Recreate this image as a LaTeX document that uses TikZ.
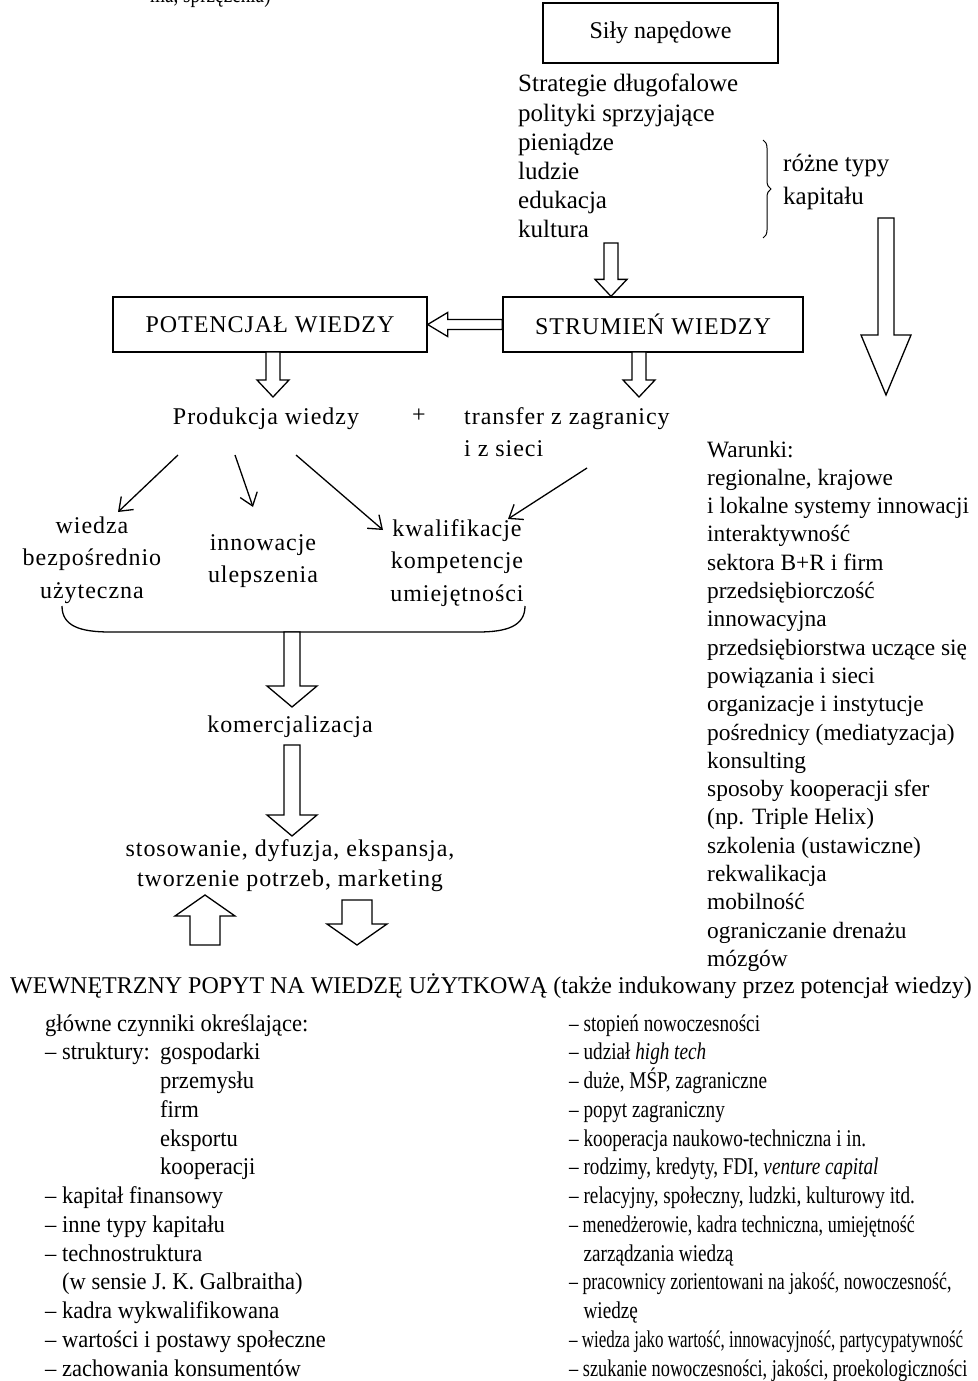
\documentclass[tikz,border=0pt]{standalone}
\usepackage{fontspec}
\setmainfont{Liberation Serif}
\newfontfamily\condfont[FakeStretch=0.8]{Liberation Serif}
\newfontfamily\lcondfont[FakeStretch=0.94]{Liberation Serif}
\newfontfamily\spcfont[LetterSpace=4]{Liberation Serif}
\usetikzlibrary{calc,arrows.meta,decorations.pathreplacing}
\newcommand\blockarr[5]{%
  \coordinate (bac) at ($(#2)!#5!(#1)$);
  \draw[blk] ($(#1)!#3!90:(#2)$) -- ($(bac)!#3!90:(#2)$) -- ($(bac)!#4!90:(#2)$) -- (#2)
    -- ($(bac)!#4!-90:(#2)$) -- ($(bac)!#3!-90:(#2)$) -- ($(#1)!#3!-90:(#2)$) -- cycle;}
\begin{document}
\begin{tikzpicture}[x=1pt,y=-1pt,
  txt/.style={inner sep=0pt, font=\fontsize{24}{28}\selectfont},
  btxt/.style={inner sep=0pt, font=\fontsize{25}{29}\selectfont},
  rtxt/.style={inner sep=0pt, font=\fontsize{23.4}{28}\selectfont},
  stxt/.style={inner sep=0pt, font=\spcfont\fontsize{24}{28}\selectfont},
  ctxt/.style={inner sep=0pt, font=\condfont\fontsize{24}{28}\selectfont},
  lctxt/.style={inner sep=0pt, font=\lcondfont\fontsize{24}{28}\selectfont},
  box/.style={draw, line width=1.3pt, inner sep=0pt},
  blk/.style={draw, line width=1.3pt, fill=white, line join=miter},
  thinarr/.style={line width=1.3pt, -{Straight Barb[length=12pt,width=18pt]}},
]
\useasboundingbox (0,0) rectangle (977,1381);
% cut-off caption fragment at the top
\node[ctxt, anchor=base west] (frag) at (150,3) {ma, sprzężenia)};
% driving forces
\node[box, txt, minimum width=235pt, minimum height=60pt] (sily) at (660.5,33) {Siły napędowe};
\foreach \t [count=\i from 0] in {Strategie długofalowe, polityki sprzyjające, pieniądze, ludzie, edukacja, kultura}
  \node[btxt, anchor=base west] (sl\i) at (518, 92+\i*29) {\t};
\draw[line width=1pt, decorate, decoration={brace, amplitude=8pt}] (763,140) -- (763,238);
\node[btxt, anchor=base west] (rt1) at (783,171) {różne typy};
\node[btxt, anchor=base west] (rt2) at (783,204) {kapitału};
% boxes
\node[box, stxt, minimum width=314pt, minimum height=55pt] (poten) at (270,324.5) {POTENCJAŁ WIEDZY};
\node[box, stxt, minimum width=300pt, minimum height=55pt] (strum) at (653,324.5) {STRUMIEŃ WIEDZY};
% block arrows top
\coordinate (a1s) at (611,243);
\coordinate (a1e) at (a1s |- strum.north);
\blockarr{a1s}{a1e}{7pt}{16pt}{17pt}
\blockarr{strum.west}{poten.east}{5pt}{12pt}{20pt}
\coordinate (a3s) at (273,352); \coordinate (a3e) at (273,397);
\blockarr{a3s}{a3e}{7pt}{16pt}{17pt}
\coordinate (a4s) at (639,352); \coordinate (a4e) at (639,397);
\blockarr{a4s}{a4e}{7pt}{16pt}{17pt}
\coordinate (a5s) at (886,218); \coordinate (a5e) at (886,395);
\blockarr{a5s}{a5e}{8pt}{25pt}{60pt}
% production / transfer
\node[stxt, anchor=base] (prod) at (266,424) {Produkcja wiedzy};
\node[txt, anchor=base] (plus) at (419,422) {+};
\node[stxt, anchor=base west] (tr1) at (464,424) {transfer z zagranicy};
\node[stxt, anchor=base west] (tr2) at (464,456) {i z sieci};
% outcomes
\node[stxt, anchor=base] (w1) at (92,533) {wiedza};
\node[stxt, anchor=base] (w2) at (92,565) {bezpośrednio};
\node[stxt, anchor=base] (w3) at (92,598) {użyteczna};
\node[stxt, anchor=base] (i1) at (263,550) {innowacje};
\node[stxt, anchor=base] (i2) at (263,582) {ulepszenia};
\node[stxt, anchor=base] (k1) at (457,536) {kwalifikacje};
\node[stxt, anchor=base] (k2) at (457,568) {kompetencje};
\node[stxt, anchor=base] (k3) at (457,601) {umiejętności};
% thin arrows
\coordinate (t1s) at (178,455); \coordinate (t1e) at (118,512);
\coordinate (t2s) at (235,455); \coordinate (t2e) at (253,507);
\coordinate (t3s) at (296,455); \coordinate (t3e) at (383,530);
\coordinate (t4s) at (587,468); \coordinate (t4e) at (508,519);
\draw[thinarr] (t1s) -- (t1e);
\draw[thinarr] (t2s) -- (t2e);
\draw[thinarr] (t3s) -- (t3e);
\draw[thinarr] (t4s) -- (t4e);
% lower brace
\draw[line width=1.3pt] (62,606) .. controls (62,626) and (80,632) .. (110,632) -- (478,632) .. controls (507,632) and (525,626) .. (525,606);
\coordinate (a6s) at (292,632); \coordinate (a6e) at (292,707);
\blockarr{a6s}{a6e}{8pt}{25pt}{21pt}
\node[stxt, anchor=base] (kom) at (290,732) {komercjalizacja};
\coordinate (a7s) at (292,745); \coordinate (a7e) at (292,836);
\blockarr{a7s}{a7e}{8pt}{25pt}{21pt}
\node[stxt, anchor=base] (st1) at (290,856) {stosowanie, dyfuzja, ekspansja,};
\node[stxt, anchor=base] (st2) at (290,886) {tworzenie potrzeb, marketing};
\coordinate (a8s) at (205,945); \coordinate (a8e) at (205,895);
\blockarr{a8s}{a8e}{15pt}{30pt}{21pt}
\coordinate (a9s) at (357,900); \coordinate (a9e) at (357,945);
\blockarr{a9s}{a9e}{15pt}{30pt}{21pt}
% conditions column
\foreach \t [count=\i from 0] in {Warunki:, {regionalne, krajowe}, i lokalne systemy innowacji, interaktywność, sektora B+R i firm, przedsiębiorczość, innowacyjna, przedsiębiorstwa uczące się, powiązania i sieci, organizacje i instytucje, pośrednicy (mediatyzacja), konsulting, sposoby kooperacji sfer, (np. Triple Helix), szkolenia (ustawiczne), rekwalikacja, mobilność, ograniczanie drenażu, mózgów}
  \node[rtxt, anchor=base west] (wr\i) at (707, 457+\i*28.3) {\t};
% demand
\node[txt, anchor=base west] (pop) at (10,993) {WEWNĘTRZNY POPYT NA WIEDZĘ UŻYTKOWĄ (także indukowany przez potencjał wiedzy)};
\foreach \t [count=\i from 0] in {główne czynniki określające:, – struktury:, {}, {}, {}, {}, – kapitał finansowy, – inne typy kapitału, – technostruktura, {\phantom{–} (w sensie J. K. Galbraitha)}, – kadra wykwalifikowana, – wartości i postawy społeczne, – zachowania konsumentów}
  \node[lctxt, anchor=base west] (lc\i) at (45, 1031+\i*28.75) {\t};
\foreach \t [count=\i from 1] in {gospodarki, przemysłu, firm, eksportu, kooperacji}
  \node[lctxt, anchor=base west] (sc\i) at (160, 1031+\i*28.75) {\t};
\foreach \t/\s [count=\i from 0] in {– stopień nowoczesności/1, – udział \textit{high tech}/1, {– duże, MŚP, zagraniczne}/1, – popyt zagraniczny/1, – kooperacja naukowo-techniczna i in./1, {– rodzimy, kredyty, FDI, \textit{venture capital}}/1, {– relacyjny, społeczny, ludzki, kulturowy itd.}/1, {– menedżerowie, kadra techniczna, umiejętność}/0.94, {\phantom{–} zarządzania wiedzą}/1, {– pracownicy zorientowani na jakość, nowoczesność,}/0.93, {\phantom{–} wiedzę}/1, {– wiedza jako wartość, innowacyjność, partycypatywność}/0.885, {– szukanie nowoczesności, jakości, proekologiczności}/0.955}
  \node[ctxt, anchor=base west, xscale=\s] (rc\i) at (569, 1031+\i*28.75) {\t};
\end{tikzpicture}
\end{document}
